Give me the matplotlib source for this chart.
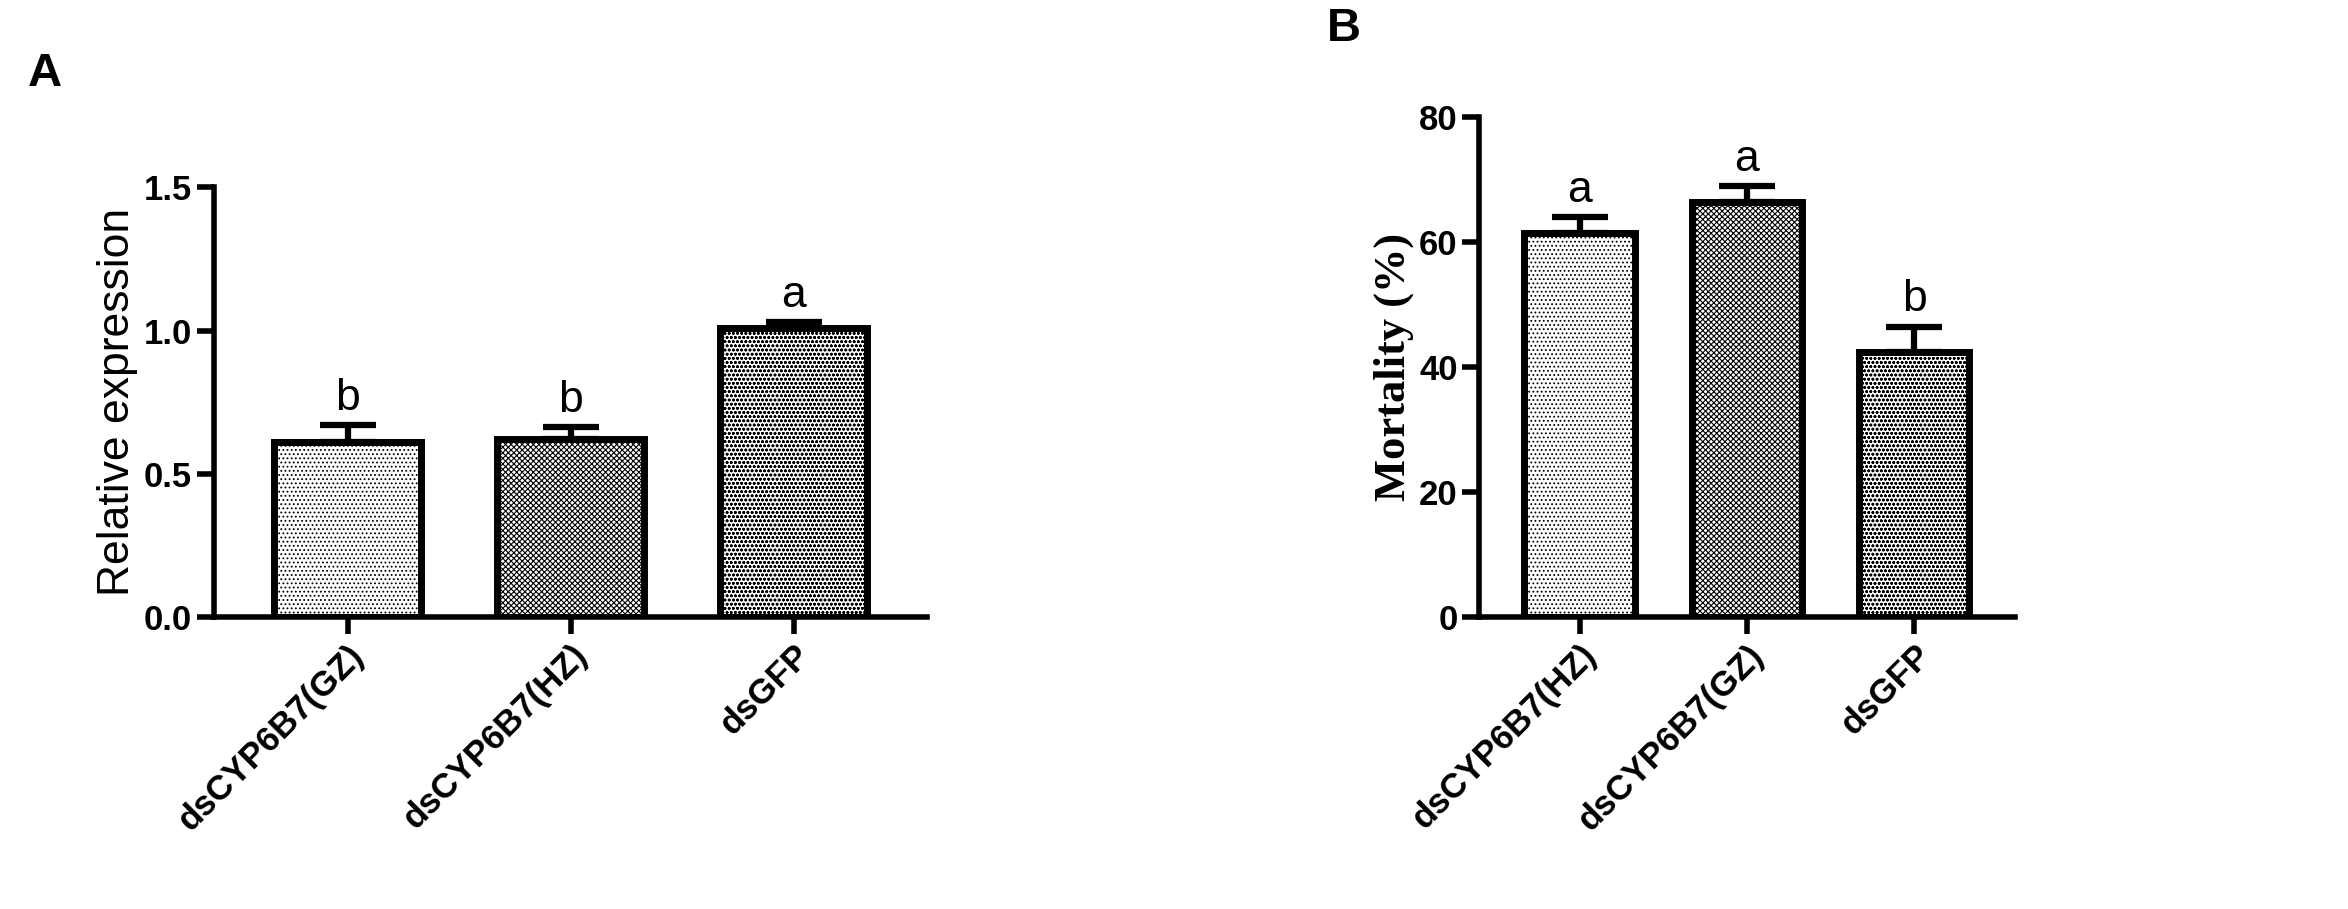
import matplotlib
matplotlib.use("Agg")
import matplotlib.pyplot as plt

catA = ["dsCYP6B7(GZ)", "dsCYP6B7(HZ)", "dsGFP"]
valA = [0.61, 0.62, 1.01]
errA = [0.06, 0.045, 0.02]
letA = ["b", "b", "a"]
catB = ["dsCYP6B7(HZ)", "dsCYP6B7(GZ)", "dsGFP"]
valB = [61.5, 66.5, 42.5]
errB = [2.5, 2.5, 4.0]
letB = ["a", "a", "b"]
hA = ["....", "xxxxxx", "oooo"]
hB = ["....", "xxxxxx", "oooo"]

plt.rcParams['font.family'] = ['Liberation Sans', 'DejaVu Sans']
plt.rcParams['hatch.linewidth'] = 0.8
fig = plt.figure(figsize=(23.48, 9.09), dpi=100)
axA = fig.add_axes([0.091, 0.321, 0.304, 0.473])
axB = fig.add_axes([0.630, 0.321, 0.228, 0.550])

def draw(ax, cats, vals, errs, lets, hatches, ylim, ticks, off):
    x = range(len(cats))
    ax.bar(x, vals, width=0.66, color='white', edgecolor='black', linewidth=5,
           hatch=hatches, zorder=2)
    ax.errorbar(x, vals, yerr=[[0]*len(errs), errs], fmt='none', ecolor='black',
                elinewidth=4.5, capsize=20, capthick=4.5, zorder=3)
    for i, (v, e, l) in enumerate(zip(vals, errs, lets)):
        ax.text(i, v + e + off, l, ha='center', va='bottom', fontsize=32)
    ax.set_ylim(*ylim)
    ax.set_yticks(ticks)
    ax.set_xlim(-0.6, len(cats) - 0.4)
    ax.set_xticks(list(x))
    ax.set_xticklabels(cats, rotation=45, ha='right', rotation_mode='anchor',
                       fontsize=27, fontweight='bold')
    for s in ['top', 'right']:
        ax.spines[s].set_visible(False)
    for s in ['left', 'bottom']:
        ax.spines[s].set_linewidth(4)
    ax.tick_params(width=4, length=12, labelsize=25)
    for t in ax.get_yticklabels():
        t.set_fontweight('bold')

draw(axA, catA, valA, errA, letA, hA, (0, 1.5), [0, 0.5, 1.0, 1.5], 0.02)
axA.set_yticklabels(["0.0", "0.5", "1.0", "1.5"], fontweight='bold')
axA.set_ylabel("Relative expression", fontsize=32)
draw(axB, catB, valB, errB, letB, hB, (0, 80), [0, 20, 40, 60, 80], 1.0)
axB.set_ylabel("Mortality (%)", fontsize=32, fontweight='bold', family='Liberation Serif')

fig.text(0.012, 0.905, "A", fontsize=34, fontweight='bold')
fig.text(0.565, 0.955, "B", fontsize=34, fontweight='bold')
fig.savefig("out.png", dpi=100)
